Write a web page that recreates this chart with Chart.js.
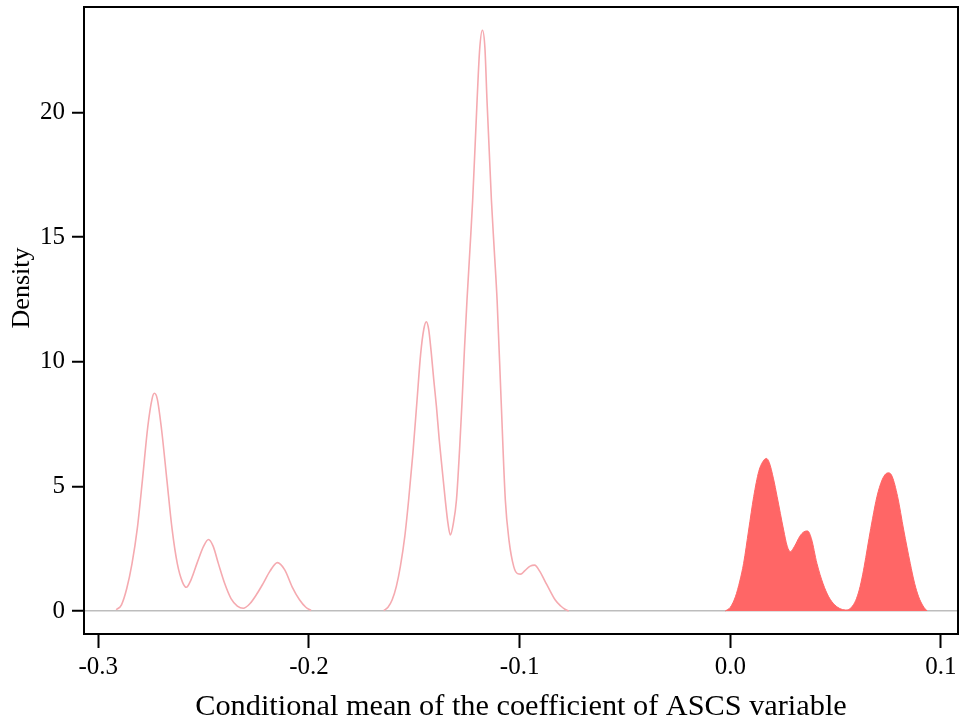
<!DOCTYPE html>
<html><head><meta charset="utf-8">
<script src="https://cdn.jsdelivr.net/npm/chart.js@4.4.1/dist/chart.umd.min.js"></script>
<style>html,body{margin:0;padding:0;background:#fff;} #wrap{width:961px;height:726px;}</style>
</head><body><div id="wrap"><canvas id="c" width="961" height="726"></canvas></div>
<script>
const xTicks = [-0.3, -0.2, -0.1, 0.0, 0.1];
const yTicks = [0, 5, 10, 15, 20];
const xLabel = 'Conditional mean of the coefficient of ASCS variable';
const yLabel = 'Density';

// negative part (outline only), null = gap
const negX = [-0.2915,-0.2890,-0.2865,-0.2840,-0.2815,-0.2790,-0.2765,-0.2745,-0.2734,-0.2720,-0.2700,-0.2675,-0.2650,-0.2625,-0.2600,-0.2582,-0.2560,-0.2530,-0.2500,-0.2477,-0.2455,-0.2430,-0.2400,-0.2370,-0.2340,-0.2312,-0.2280,-0.2250,-0.2218,-0.2185,-0.2150,-0.2115,-0.2080,-0.2045,-0.2015,-0.1990,
  -0.1820,
  -0.1645,-0.1625,-0.1605,-0.1585,-0.1566,-0.1545,-0.1527,-0.1507,-0.1487,-0.1470,-0.1455,-0.1443,-0.1432,-0.1420,-0.1408,-0.1395,-0.1382,-0.1368,-0.1353,-0.1340,-0.1329,-0.1315,-0.1300,-0.1285,-0.1273,-0.1262,-0.1250,-0.1236,-0.1223,-0.1202,-0.1190,-0.1177,-0.1165,-0.1155,-0.1134,-0.1120,-0.1107,-0.1088,-0.1068,-0.1050,-0.1028,-0.1010,-0.0994,-0.0975,-0.0950,-0.0929,-0.0905,-0.0880,-0.0855,-0.0831,-0.0805,-0.0785,-0.0767];
const negY = [0.05,0.25,0.9,1.9,3.3,5.3,7.4,8.5,8.73,8.5,7.3,5.3,3.3,1.9,1.15,0.95,1.25,1.95,2.6,2.87,2.6,1.9,1.1,0.5,0.2,0.11,0.3,0.65,1.1,1.6,1.94,1.65,0.97,0.45,0.15,0.02,
  null,
  0.02,0.15,0.45,1.0,1.8,3.0,4.45,6.3,8.46,10.3,11.3,11.6,11.3,10.4,9.3,8.2,6.9,5.7,4.45,3.5,3.05,3.5,4.45,6.5,8.46,10.5,12.46,14.5,16.47,20.48,22.5,23.29,22.6,20.48,16.47,14.4,12.46,8.46,4.45,2.8,1.78,1.5,1.48,1.62,1.8,1.84,1.6,1.2,0.8,0.44,0.2,0.07,0.0];

// positive part (filled)
const posX = [-0.0024,0.0000,0.0024,0.0045,0.0063,0.0087,0.0111,0.0135,0.0155,0.0171,0.0185,0.0205,0.0222,0.0253,0.0270,0.0285,0.0305,0.0330,0.0350,0.0367,0.0385,0.0411,0.0440,0.0467,0.0495,0.0525,0.0554,0.0575,0.0595,0.0612,0.0628,0.0643,0.0658,0.0675,0.0696,0.0720,0.0738,0.0752,0.0768,0.0794,0.0823,0.0854,0.0875,0.0894,0.0915,0.0934];
const posY = [0.0,0.15,0.57,1.2,1.91,3.25,4.59,5.6,6.0,6.12,5.95,5.3,4.59,3.25,2.6,2.38,2.6,3.0,3.18,3.21,2.9,1.91,1.1,0.57,0.25,0.08,0.04,0.15,0.42,0.85,1.45,2.15,2.9,3.7,4.59,5.25,5.5,5.54,5.4,4.59,3.25,1.91,1.1,0.57,0.2,0.0];

const toPts = (xs, ys) => xs.map((x, i) => ({x: x, y: ys[i]}));

Chart.defaults.font.family = "'Liberation Serif', 'Times New Roman', serif";
Chart.defaults.color = '#000';

const framePlugin = {
  id: 'frame',
  afterDraw(chart) {
    const a = chart.chartArea, ctx = chart.ctx;
    ctx.save();
    ctx.strokeStyle = '#000';
    ctx.lineWidth = 2;
    ctx.strokeRect(a.left, a.top, a.right - a.left, a.bottom - a.top);
    ctx.restore();
  }
};

new Chart(document.getElementById('c'), {
  type: 'line',
  data: {
    datasets: [
      {
        data: toPts(posX, posY),
        borderColor: '#FF6666',
        backgroundColor: '#FF6666',
        borderWidth: 1,
        fill: 'origin',
        pointRadius: 0,
        cubicInterpolationMode: 'monotone'
      },
      {
        data: toPts(negX, negY),
        borderColor: 'rgb(245,170,176)',
        borderWidth: 1.6,
        fill: false,
        pointRadius: 0,
        spanGaps: false,
        cubicInterpolationMode: 'monotone'
      }
    ]
  },
  options: {
    responsive: false,
    animation: false,
    layout: { padding: { top: 7, right: 3, left: 0, bottom: 0 } },
    plugins: { legend: { display: false }, tooltip: { enabled: false } },
    scales: {
      x: {
        type: 'linear',
        min: -0.30679,
        max: 0.10807,
        afterBuildTicks: s => { s.ticks = xTicks.map(v => ({value: v})); },
        afterFit: s => { s.height = 92; s.paddingLeft = 0; s.paddingRight = 0; },
        border: { display: false },
        grid: { display: true, drawOnChartArea: false, drawTicks: true, tickLength: 14, tickColor: '#000', tickWidth: 2 },
        ticks: { font: { size: 25 }, padding: 4, maxRotation: 0, autoSkip: false,
                 callback: v => Number(v).toFixed(1) },
        title: { display: true, text: xLabel, font: { size: 30.3 }, padding: { top: 0, bottom: 1 } }
      },
      y: {
        type: 'linear',
        min: -0.922,
        max: 24.223,
        afterBuildTicks: s => { s.ticks = yTicks.map(v => ({value: v})); },
        afterFit: s => { s.width = 84; s.paddingTop = 0; s.paddingBottom = 0; },
        border: { display: false },
        grid: { display: true, drawOnChartArea: true, drawTicks: true, tickLength: 12,
                color: c => (c.tick && c.tick.value === 0) ? '#BDBDBD' : 'rgba(0,0,0,0)',
                lineWidth: 1.5, tickColor: '#000', tickWidth: 2 },
        ticks: { font: { size: 25 }, padding: 7, autoSkip: false, callback: v => String(v) },
        title: { display: true, text: '          ' + yLabel, font: { size: 26 }, padding: { top: 7, bottom: 0 } }
      }
    }
  },
  plugins: [framePlugin]
});
</script>
</body></html>
